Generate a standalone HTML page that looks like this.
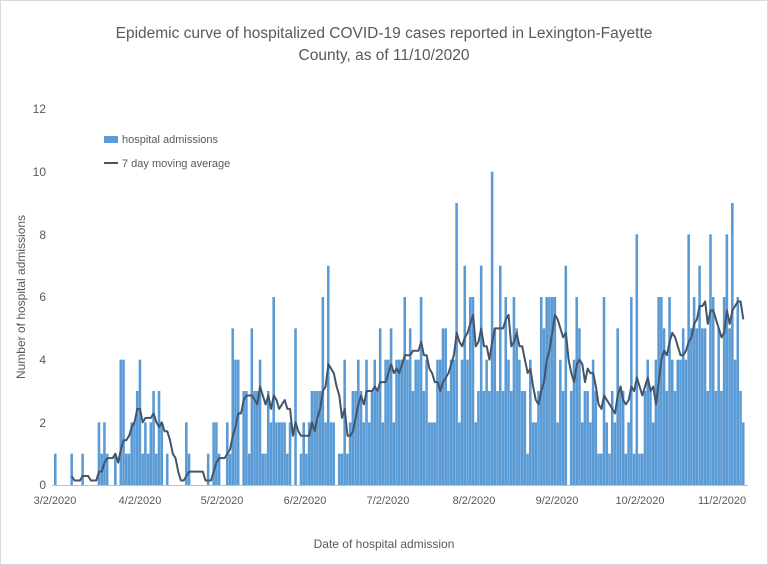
<!DOCTYPE html>
<html><head><meta charset="utf-8"><style>
body{margin:0;background:#fff;}
svg{display:block;font-family:"Liberation Sans",sans-serif;}
</style></head><body>
<svg id="c" width="768" height="565" xmlns="http://www.w3.org/2000/svg">
<rect x="0.5" y="0.5" width="767" height="564" fill="#fff" stroke="#d9d9d9"/>
<text x="384" y="38" text-anchor="middle" font-size="15.5" fill="#595959">Epidemic curve of hospitalized COVID-19 cases reported in Lexington-Fayette</text>
<text x="384" y="60" text-anchor="middle" font-size="15.5" fill="#595959">County, as of 11/10/2020</text>
<g font-size="12" fill="#595959" text-anchor="end">
<text x="46" y="489">0</text><text x="46" y="427">2</text><text x="46" y="364">4</text>
<text x="46" y="301">6</text><text x="46" y="239">8</text><text x="46" y="176">10</text><text x="46" y="113">12</text>
</g>
<text transform="translate(25,297) rotate(-90)" text-anchor="middle" font-size="12" fill="#595959">Number of hospital admissions</text>
<text x="384" y="548" text-anchor="middle" font-size="12" fill="#595959">Date of hospital admission</text>
<g font-size="11" fill="#595959" text-anchor="middle">
<text x="55" y="504">3/2/2020</text><text x="140" y="504">4/2/2020</text><text x="222" y="504">5/2/2020</text>
<text x="305" y="504">6/2/2020</text><text x="388" y="504">7/2/2020</text><text x="474" y="504">8/2/2020</text>
<text x="557" y="504">9/2/2020</text><text x="640" y="504">10/2/2020</text><text x="722" y="504">11/2/2020</text>
</g>
<rect x="104" y="136" width="14" height="7" fill="#5b9bd5"/>
<text x="122" y="143" font-size="11" fill="#595959">hospital admissions</text>
<line x1="104" y1="163" x2="118" y2="163" stroke="#44546a" stroke-width="2"/>
<text x="122" y="167" font-size="11" fill="#595959">7 day moving average</text>
<g id="bars" fill="#5b9bd5"></g>
<line x1="52" y1="485.5" x2="748" y2="485.5" stroke="#bfbfbf"/>
<polyline id="ma" fill="none" stroke="#44546a" stroke-width="2" stroke-linejoin="round"/>
</svg>
<script>
var v=[1,0,0,0,0,0,1,0,0,0, 1,0,0,0,0,0,2,1,2,1, 0,0,1,0,4,4,1,1,2,2, 3,4,1,2,1,2,3,1,3,2,
0,1,0,0,0,0,0,0,2,1, 0,0,0,0,0,0,1,0,2,2, 1,0,0,2,1,5,4,4,0,3, 3,1,5,3,3,4,1,1,3,2,
6,2,2,2,2,1,2,0,5,0, 1,2,1,2,3,3,3,3,6,2, 7,2,2,0,1,1,4,1,2,3, 3,4,3,2,4,2,3,4,3,5,
2,4,4,5,2,4,4,4,6,4, 5,3,4,4,6,3,4,2,2,2, 4,4,5,5,3,4,4,9,2,4, 7,4,6,6,2,3,7,3,4,3,
10,5,3,7,3,6,4,3,6,5, 4,3,3,1,4,2,2,3,6,5, 6,6,6,6,2,4,3,7,0,3, 4,6,5,2,3,3,2,4,3,1,
1,6,2,1,3,2,5,3,3,1, 2,6,1,8,1,1,3,4,3,2, 4,6,6,5,3,6,4,3,4,4, 5,4,8,5,6,5,7,5,5,3,
8,6,3,5,3,6,8,5,9,4, 6,3,2];
var x0=54,dw=2.73,y0=485,u=31.33,g=document.getElementById('bars'),ns="http://www.w3.org/2000/svg",pts=[];
for(var i=0;i<v.length;i++){
 if(v[i]>0){var r=document.createElementNS(ns,'rect');r.setAttribute('x',(x0+i*dw).toFixed(2));r.setAttribute('y',(y0-v[i]*u).toFixed(2));r.setAttribute('width',(dw-0.15).toFixed(2));r.setAttribute('height',(v[i]*u).toFixed(2));g.appendChild(r);}
 if(i>=6){var s=0;for(var j=i-6;j<=i;j++)s+=v[j];pts.push((x0+i*dw+dw/2).toFixed(1)+","+(y0-s/7*u).toFixed(1));}
}
document.getElementById('ma').setAttribute('points',pts.join(' '));
</script>
</body></html>
